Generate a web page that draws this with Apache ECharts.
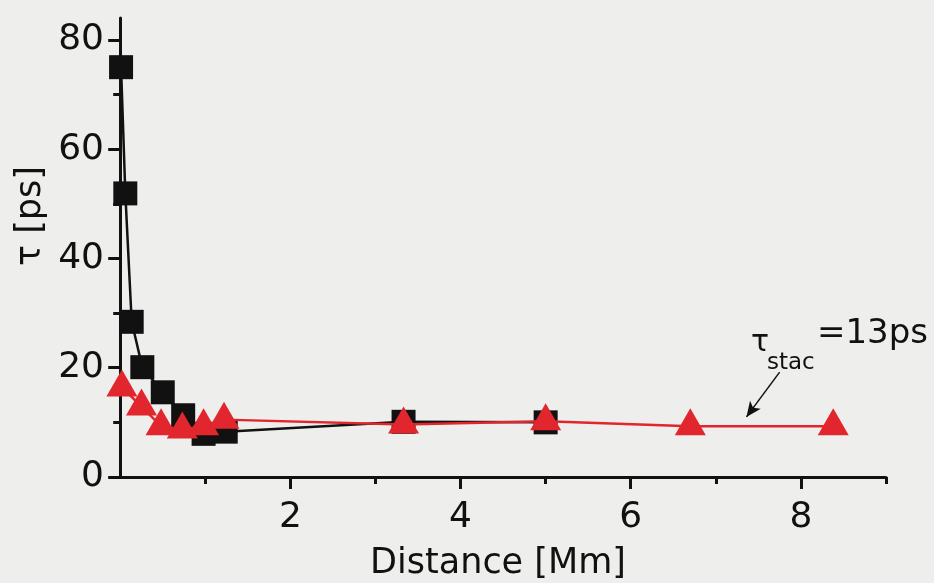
<!DOCTYPE html>
<html>
<head>
<meta charset="utf-8">
<script src="https://cdn.jsdelivr.net/npm/echarts@6/dist/echarts.min.js"></script>
<style>
html,body{margin:0;padding:0;background:#eeeeec;}
#chart{width:934px;height:583px;}
</style>
</head>
<body>
<div id="chart"></div>
<script>
// Data
var blackX = [0.01, 0.06, 0.135, 0.26, 0.50, 0.74, 0.98, 1.24, 3.33, 5.0];
var blackY = [75.0, 51.9, 28.4, 20.1, 15.5, 11.3, 7.9, 8.3, 10.1, 10.0];
var redX = [0.02, 0.25, 0.48, 0.73, 0.98, 1.22, 3.33, 5.0, 6.70, 8.38];
var redY = [16.4, 12.9, 9.3, 8.7, 9.3, 10.5, 9.6, 10.2, 9.3, 9.3];
var xMajorTicks = [2, 4, 6, 8];
var xMinorTicks = [1, 3, 5, 7, 9];
var yMajorTicks = [0, 20, 40, 60, 80];
var yMinorTicks = [10, 30, 50, 70];
var arrowFrom = [7.75, 19.2];
var arrowTo = [7.36, 11.0];

function pairs(xs, ys) { return xs.map(function (x, i) { return [x, ys[i]]; }); }

var FONT = 'DejaVu Sans';
var INK = '#111111';
var RED = '#e2262e';

var chart = echarts.init(document.getElementById('chart'), null, {renderer: 'canvas'});
chart.setOption({
  backgroundColor: '#eeeeec',
  animation: false,
  grid: {left: 110, right: 48, top: 18, bottom: 106, containLabel: false, outerBoundsMode: 'none'},
  xAxis: [{
    type: 'value', min: -0.12, max: 9,
    name: 'Distance [Mm]', nameLocation: 'middle', nameGap: 69,
    nameTextStyle: {fontFamily: FONT, fontSize: 35, color: INK},
    axisLine: {show: true, onZero: true, lineStyle: {color: INK, width: 3}},
    axisTick: {show: true, inside: false, length: 12, customValues: xMajorTicks, lineStyle: {color: INK, width: 3}},
    axisLabel: {show: true, customValues: xMajorTicks, margin: 23, fontFamily: FONT, fontSize: 36, color: INK},
    splitLine: {show: false}
  }, {
    type: 'value', min: -0.12, max: 9, position: 'bottom',
    axisLine: {show: false, onZero: true},
    axisTick: {show: true, inside: false, length: 7, customValues: xMinorTicks, lineStyle: {color: INK, width: 3}},
    axisLabel: {show: false},
    splitLine: {show: false}
  }],
  yAxis: [{
    type: 'value', min: 0, max: 84, interval: 20,
    axisLine: {show: true, onZero: true, lineStyle: {color: INK, width: 3}},
    axisTick: {show: true, inside: false, length: 12, customValues: yMajorTicks, lineStyle: {color: INK, width: 3}},
    axisLabel: {show: true, customValues: yMajorTicks, margin: 6, fontFamily: FONT, fontSize: 36, color: INK},
    splitLine: {show: false}
  }, {
    type: 'value', min: 0, max: 84, position: 'left',
    axisLine: {show: false, onZero: true},
    axisTick: {show: true, inside: false, length: 7, customValues: yMinorTicks, lineStyle: {color: INK, width: 3}},
    axisLabel: {show: false},
    splitLine: {show: false}
  }],
  series: [{
    type: 'line', name: 'black', xAxisIndex: 0, yAxisIndex: 0,
    data: pairs(blackX, blackY),
    symbol: 'rect', symbolSize: 24,
    itemStyle: {color: INK},
    lineStyle: {color: INK, width: 2.5},
    z: 2
  }, {
    type: 'line', name: 'red', xAxisIndex: 0, yAxisIndex: 0,
    data: pairs(redX, redY),
    symbol: 'triangle', symbolSize: [31, 27], symbolOffset: [0, -4.5],
    itemStyle: {color: RED},
    lineStyle: {color: RED, width: 2.5},
    z: 3,
    markLine: {
      silent: true,
      symbol: ['none', 'arrow'], symbolSize: [10, 15],
      label: {show: false},
      lineStyle: {color: INK, width: 1.5, type: 'solid'},
      data: [[{coord: arrowFrom}, {coord: arrowTo}]]
    }
  }],
  graphic: [{
    type: 'text', x: 31, y: 216, rotation: Math.PI / 2,
    style: {text: 'τ [ps]', fontFamily: FONT, fontSize: 35, fill: INK, align: 'center', verticalAlign: 'middle'}
  }, {
    type: 'text', x: 751, y: 343,
    style: {text: 'τ', fontFamily: FONT, fontSize: 30, fill: INK, align: 'left', verticalAlign: 'middle'}
  }, {
    type: 'text', x: 767, y: 363,
    style: {text: 'stac', fontFamily: FONT, fontSize: 23, fill: INK, align: 'left', verticalAlign: 'middle'}
  }, {
    type: 'text', x: 817, y: 334,
    style: {text: '=13ps', fontFamily: FONT, fontSize: 34, fill: INK, align: 'left', verticalAlign: 'middle'}
  }]
});
</script>
</body>
</html>
